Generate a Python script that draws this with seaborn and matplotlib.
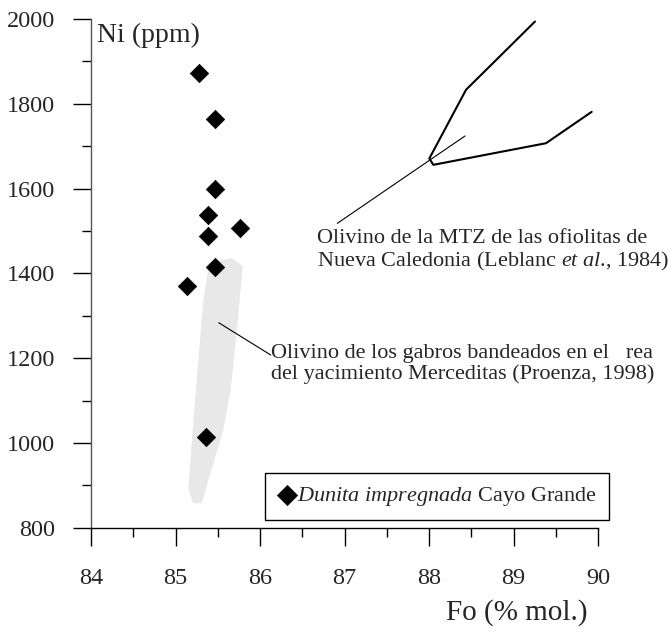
import matplotlib
matplotlib.use("Agg")
import matplotlib.pyplot as plt
import seaborn as sns
import pandas as pd
from matplotlib.ticker import MultipleLocator

# ---- data ----
fo_dunita = [85.28, 85.47, 85.47, 85.39, 85.39, 85.76, 85.47, 85.14, 85.36]
ni_dunita = [1873, 1764, 1598, 1538, 1488, 1506, 1416, 1370, 1015]

# Field of gabbro olivines (Proenza, 1998)
fo_gabro = [85.40, 85.665, 85.795, 85.743, 85.653, 85.566, 85.31, 85.204, 85.151, 85.231, 85.329]
ni_gabro = [1424, 1436, 1417, 1298, 1125, 1031, 858, 858, 893, 1101, 1337]

# MTZ olivine trend, New Caledonia (Leblanc et al., 1984)
fo_mtz = [89.254, 88.438, 88.004, 88.051, 89.385, 89.925]
ni_mtz = [1994, 1833, 1671, 1656, 1707, 1781]

x_ticks = [84, 85, 86, 87, 88, 89, 90]
y_ticks = [800, 1000, 1200, 1400, 1600, 1800, 2000]

label_x = "Fo (% mol.)"
label_y = "Ni (ppm)"
legend_label = r"$\it{Dunita\ impregnada}$ Cayo Grande"
note_gabro = "Olivino de los gabros bandeados en el   rea\ndel yacimiento Merceditas (Proenza, 1998)"
note_mtz = "Olivino de la MTZ de las ofiolitas de\nNueva Caledonia (Leblanc $\\it{et\\ al}$., 1984)"

# ---- style ----
sns.set_style("ticks")
plt.rcParams["font.family"] = ["Liberation Serif", "DejaVu Serif"]
plt.rcParams["mathtext.fontset"] = "custom"
plt.rcParams["mathtext.rm"] = "Liberation Serif"
plt.rcParams["mathtext.it"] = "Liberation Serif:italic"

fig = plt.figure(figsize=(6.71, 6.32), dpi=100)
ax = fig.add_axes([91/671, 1 - 527.7/632, (598-91)/671, (527.7-19)/632])

ax.fill(fo_gabro, ni_gabro, color="#e8e8e8", lw=0, zorder=1)

mtz = pd.DataFrame({"fo": fo_mtz, "ni": ni_mtz})
sns.lineplot(data=mtz, x="fo", y="ni", sort=False, estimator=None,
             color="black", lw=1.5, ax=ax, zorder=2)

dun = pd.DataFrame({"fo": fo_dunita, "ni": ni_dunita})
sns.scatterplot(data=dun, x="fo", y="ni", marker="D", s=88, color="black",
                edgecolor="black", linewidth=0.5, ax=ax, zorder=3,
                label=legend_label)

# annotations
ax.plot([85.511, 86.127], [1283.6, 1207.4], color="black", lw=0.8, zorder=2)
ax.text(86.135, 1187, note_gabro, ha="left", va="center", fontsize=16,
        linespacing=1.1, clip_on=False)
ax.plot([88.426, 86.915], [1724, 1518], color="black", lw=0.8, zorder=2)
ax.text(86.671, 1452, note_mtz, ha="left", va="center", fontsize=16,
        linespacing=1.1, clip_on=False)

ax.set_xlim(84, 90)
ax.set_ylim(800, 2000)
ax.set_xticks(x_ticks)
ax.set_yticks(y_ticks)
ax.xaxis.set_minor_locator(MultipleLocator(0.5))
ax.yaxis.set_minor_locator(MultipleLocator(100))
ax.tick_params(axis="both", which="major", direction="out", length=13,
               width=1, color="black", labelsize=17.5)
ax.tick_params(axis="both", which="minor", direction="out", length=6.5,
               width=1, color="black")
ax.tick_params(axis="x", which="major", pad=16)
ax.tick_params(axis="y", which="major", pad=13)

for s in ["top", "right"]:
    ax.spines[s].set_visible(False)
ax.spines["left"].set_color("#555555")
ax.spines["bottom"].set_color("black")
for s in ["left", "bottom"]:
    ax.spines[s].set_linewidth(1)

ax.set_xlabel(label_x, fontsize=21, ha="right", va="center")
ax.xaxis.set_label_coords((587-91)/507, -(613-527.7)/508.7)
ax.set_ylabel(label_y, fontsize=20, rotation=0, ha="left", va="center")
ax.yaxis.set_label_coords(6/507, (527.7-35.5)/508.7)

leg = ax.legend(loc="lower left", bbox_to_anchor=(265/671, 1 - 520/632),
                bbox_transform=fig.transFigure, frameon=True, fancybox=False,
                fontsize=16, handletextpad=0.0, borderpad=0.55,
                handlelength=0.9, borderaxespad=0, markerscale=1.1)
leg.get_frame().set_edgecolor("black")
leg.get_frame().set_linewidth(1)
leg.get_frame().set_alpha(1)

fig.savefig("out.png", dpi=100)
